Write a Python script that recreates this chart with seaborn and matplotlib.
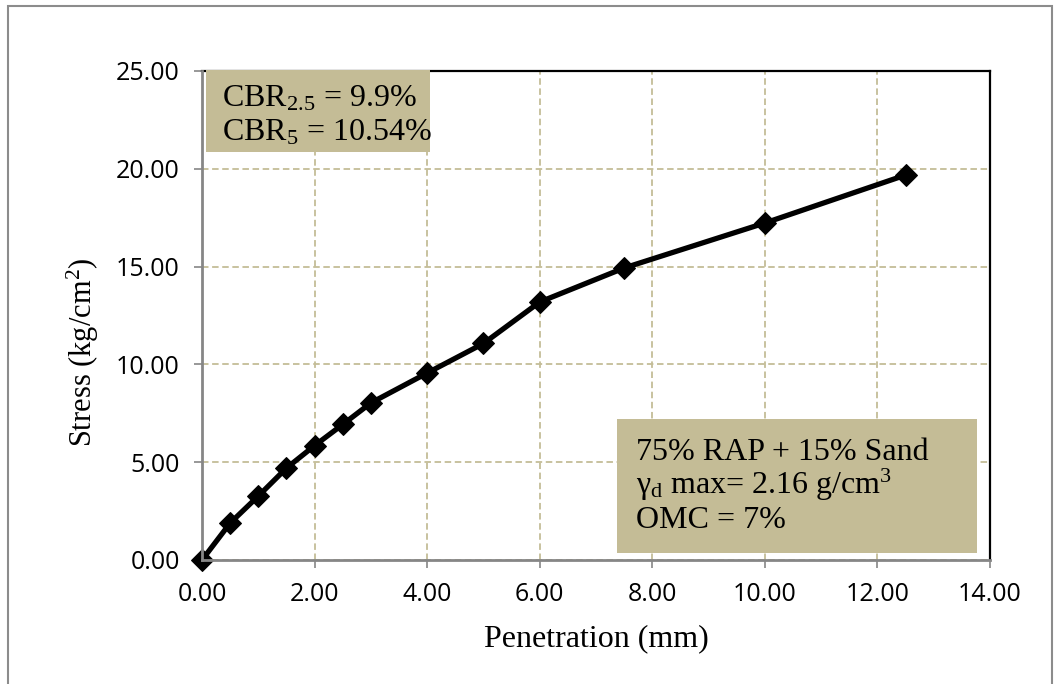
import matplotlib
matplotlib.use("Agg")
import matplotlib.pyplot as plt
import seaborn as sns
import pandas as pd
from matplotlib.patches import Rectangle
from matplotlib.ticker import FormatStrFormatter

# CBR test: penetration (mm) vs stress (kg/cm^2)
penetration = [0.0, 0.5, 1.0, 1.5, 2.0, 2.5, 3.0, 4.0, 5.0, 6.0, 7.5, 10.0, 12.5]
stress = [0.0, 1.89, 3.27, 4.70, 5.85, 6.93, 8.03, 9.56, 11.07, 13.19, 14.93, 17.23, 19.68]

x_ticks = [0, 2, 4, 6, 8, 10, 12, 14]
y_ticks = [0, 5, 10, 15, 20, 25]

sns.set_theme(style="white")
plt.rcParams["font.family"] = ["Open Sans", "DejaVu Sans"]
plt.rcParams["mathtext.fontset"] = "custom"
plt.rcParams["mathtext.rm"] = "Liberation Serif"
plt.rcParams["mathtext.it"] = "Liberation Serif:italic"
plt.rcParams["mathtext.bf"] = "Liberation Serif:bold"

serif = ["Liberation Serif", "DejaVu Serif"]
tan = "#C4BD97"
axis_gray = "#868686"
fs = 23

fig = plt.figure(figsize=(10.6, 6.84), dpi=100)
ax = fig.add_axes([0.1906, 0.1813, 0.7434, 0.7149])

df = pd.DataFrame({"Penetration": penetration, "Stress": stress})
sns.lineplot(data=df, x="Penetration", y="Stress", ax=ax, color="black",
             linewidth=3.8, marker="D", markersize=11.5, markeredgecolor="black",
             markerfacecolor="black", zorder=5, clip_on=False)

ax.set_xlim(0, 14)
ax.set_ylim(0, 25)
ax.set_xticks(x_ticks)
ax.set_yticks(y_ticks)
ax.xaxis.set_major_formatter(FormatStrFormatter("%.2f"))
ax.yaxis.set_major_formatter(FormatStrFormatter("%.2f"))
ax.tick_params(axis="both", which="major", direction="out", length=6, width=1.2,
               color=axis_gray, labelsize=18, labelcolor="black")
ax.tick_params(axis="x", pad=10)
ax.tick_params(axis="y", pad=10)
ax.tick_params(axis="both", bottom=True, left=True, top=False, right=False)

ax.grid(True, color=tan, linestyle=(0, (3.6, 2.0)), linewidth=1.3)
ax.set_axisbelow(True)

for side in ("top", "right"):
    ax.spines[side].set_color("black")
    ax.spines[side].set_linewidth(1.6)
for side in ("left", "bottom"):
    ax.spines[side].set_color(axis_gray)
    ax.spines[side].set_linewidth(2.0)
    ax.spines[side].set_zorder(6)

ax.set_xlabel("Penetration (mm)", fontfamily=serif, fontsize=fs, color="black", labelpad=12)
ax.set_ylabel("Stress (kg/cm$^2$)", fontfamily=serif, fontsize=22, color="black")
ax.yaxis.set_label_coords(-0.128, 0.425)

# annotation boxes
ax.add_patch(Rectangle((0.005, 0.834), 0.284, 0.168, transform=ax.transAxes,
                       facecolor="#C4BC96", edgecolor="none", zorder=3, clip_on=False))
ax.text(0.025, 0.928, "CBR$_{2.5}$ = 9.9%", transform=ax.transAxes, fontfamily=serif,
        fontsize=fs, color="black", va="baseline", zorder=4)
ax.text(0.025, 0.857, "CBR$_5$ = 10.54%", transform=ax.transAxes, fontfamily=serif,
        fontsize=fs, color="black", va="baseline", zorder=4)

ax.add_patch(Rectangle((0.527, 0.0143), 0.4565, 0.2737, transform=ax.transAxes,
                       facecolor="#C4BC96", edgecolor="none", zorder=3))
ax.text(0.551, 0.204, "75% RAP + 15% Sand", transform=ax.transAxes, fontfamily=serif,
        fontsize=fs, color="black", va="baseline", zorder=4)
ax.text(0.551, 0.134, "γ$_\\mathrm{d}$ max= 2.16 g/cm$^3$", transform=ax.transAxes,
        fontfamily=serif, fontsize=fs, color="black", va="baseline", zorder=4)
ax.text(0.551, 0.065, "OMC = 7%", transform=ax.transAxes, fontfamily=serif,
        fontsize=fs, color="black", va="baseline", zorder=4)

# chart area frame
fig.add_artist(Rectangle((8 / 1060, -0.01), 1044 / 1060, 1 - 6 / 684 + 0.01,
                         transform=fig.transFigure, facecolor="none",
                         edgecolor="#8C8C8C", linewidth=1.5))

fig.savefig("out.png", dpi=100)
